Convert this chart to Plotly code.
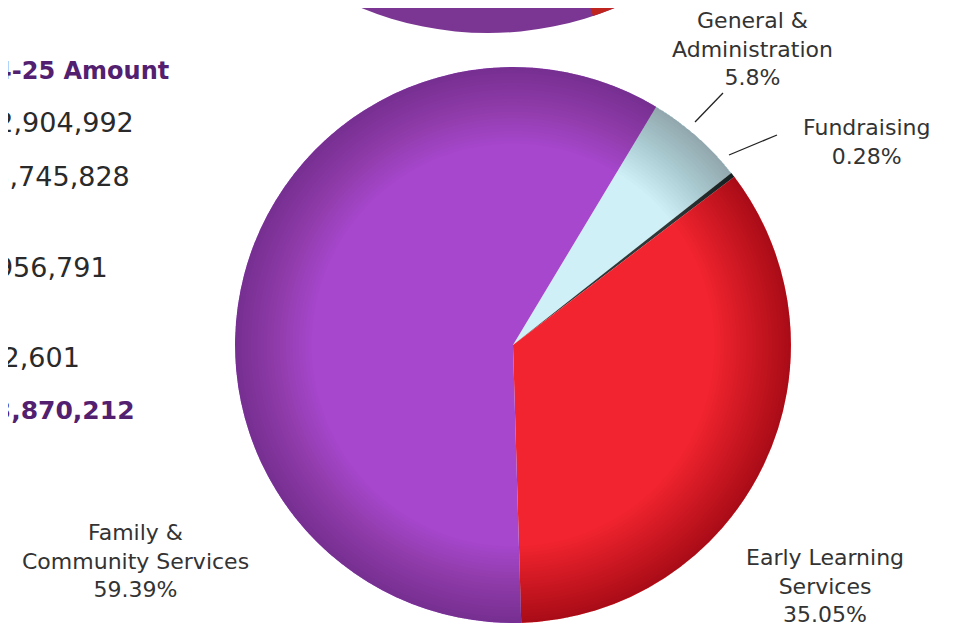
import numpy as np
import plotly.graph_objects as go

W, H = 956, 623
OFF = 8  # browser body margin

# ---- data ----
categories = ["General &<br>Administration", "Fundraising", "Early Learning<br>Services", "Family &<br>Community Services"]
percent_values = [5.8, 0.28, 35.05, 59.39]
percent_labels = ["5.8%", "0.28%", "35.05%", "59.39%"]
slice_colors = ["#CFF0F6", "#2E3838", "#F2242F", "#A747CD"]

table_header = "2024-25 Amount"
table_amounts = ["$12,904,992", "$18,745,828", "$1,956,791", "$262,601"]
table_total = "$33,870,212"

FONT = "DejaVu Sans"
TXT = "#333333"
PURPLE_DARK = "#532070"


def px(x):
    return (x - OFF) / W


def py(y):
    return 1 - (y - OFF) / H


fig = go.Figure()
fig.add_trace(go.Pie(
    labels=categories,
    values=percent_values,
    marker=dict(colors=slice_colors, line=dict(width=0)),
    sort=False,
    direction="clockwise",
    rotation=31,
    textinfo="none",
    hoverinfo="label+percent",
    domain=dict(x=[px(235), px(791)], y=[py(623), py(67)]),
    showlegend=False,
))

annotations = []
# slice labels
label_pos = [(752, 49), (866, 142), (825, 586), (135, 561)]
for cat, pct, (x, y) in zip(categories, percent_labels, label_pos):
    annotations.append(dict(
        x=px(x), y=py(y), xref="paper", yref="paper",
        text=f"{cat}<br>{pct}", showarrow=False,
        xanchor="center", yanchor="middle", align="center",
        font=dict(family=FONT, size=22, color=TXT),
    ))

# left table (cropped)
annotations.append(dict(
    x=px(171), y=py(71), xref="paper", yref="paper", text=f"<b>{table_header}</b>",
    showarrow=False, xanchor="right", yanchor="middle",
    font=dict(family=FONT, size=24, color=PURPLE_DARK),
))
amount_rows = [(136, 123), (132, 176), (110, 267), (82, 357)]
for amt, (x, y) in zip(table_amounts, amount_rows):
    annotations.append(dict(
        x=px(x), y=py(y), xref="paper", yref="paper", text=amt,
        showarrow=False, xanchor="right", yanchor="middle",
        font=dict(family=FONT, size=27, color="#2a2a2a"),
    ))
annotations.append(dict(
    x=px(137), y=py(410), xref="paper", yref="paper", text=f"<b>{table_total}</b>",
    showarrow=False, xanchor="right", yanchor="middle",
    font=dict(family=FONT, size=25, color=PURPLE_DARK),
))

shapes = []
# leader lines
for (x0, y0, x1, y1) in [(695, 122, 723, 93), (729, 155, 777, 135)]:
    shapes.append(dict(type="line", xref="paper", yref="paper",
                       x0=px(x0), y0=py(y0), x1=px(x1), y1=py(y1),
                       line=dict(color="#222222", width=1.3)))


def ring_path(cx, cy, r_out, r_in, n=160):
    t = np.linspace(0, 2 * np.pi, n, endpoint=False)
    outer = [(cx + r_out * np.cos(a), cy + r_out * np.sin(a)) for a in t]
    inner = [(cx + r_in * np.cos(a), cy + r_in * np.sin(a)) for a in t[::-1]]
    s = "M " + " L ".join(f"{px(x):.5f},{py(y):.5f}" for x, y in outer) + " Z "
    s += "M " + " L ".join(f"{px(x):.5f},{py(y):.5f}" for x, y in inner) + " Z"
    return s


# soft edge shading on the main pie (decorative)
pcx, pcy, pr = 513, 345, 278
for k in range(1, 25):
    shapes.append(dict(type="path", xref="paper", yref="paper",
                       path=ring_path(pcx, pcy, pr, pr - k * 3.2),
                       fillcolor="black", opacity=0.012, line=dict(width=0),
                       layer="above"))

# partial pie above (cropped at the top of the picture)
cx, cy, r = 488, -300, 333
shapes.append(dict(type="circle", xref="paper", yref="paper",
                   x0=px(cx - r), x1=px(cx + r), y0=py(cy + r), y1=py(cy - r),
                   fillcolor="#7A3692", line=dict(width=0), layer="above"))
angs = np.linspace(np.arcsin(105 / r), np.arcsin(300 / r), 30)
pts = [(cx, cy)] + [(cx + r * np.sin(a), cy + r * np.cos(a)) for a in angs]
path = "M " + " L ".join(f"{px(x):.5f},{py(y):.5f}" for x, y in pts) + " Z"
shapes.append(dict(type="path", xref="paper", yref="paper", path=path,
                   fillcolor="#C0241E", line=dict(width=0), layer="above"))

fig.update_layout(
    width=W, height=H,
    margin=dict(l=0, r=0, t=0, b=0),
    paper_bgcolor="white", plot_bgcolor="white",
    annotations=annotations, shapes=shapes,
    font=dict(family=FONT),
)

fig.write_html("out.html")
